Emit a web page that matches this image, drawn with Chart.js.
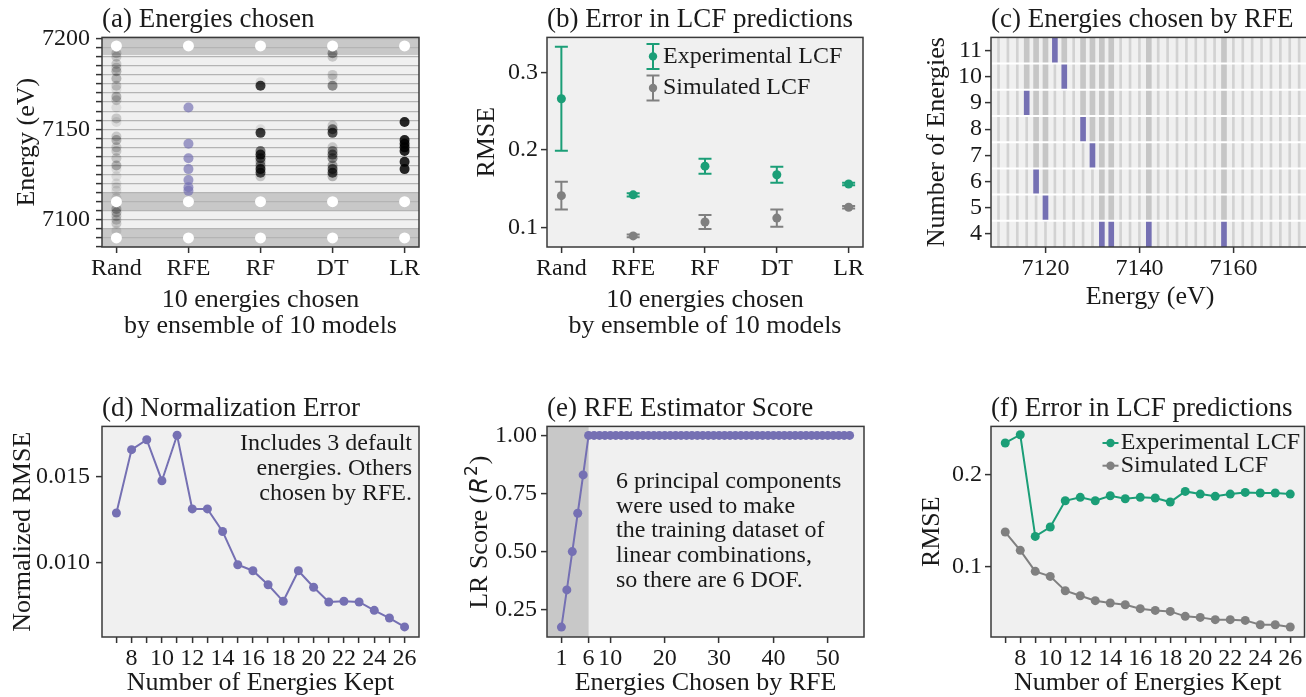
<!DOCTYPE html>
<html>
<head>
<meta charset="utf-8">
<title>Energy selection panels</title>
<script src="https://cdn.jsdelivr.net/npm/chart.js@4.4.1/dist/chart.umd.min.js"></script>
<style>
  html, body { margin: 0; padding: 0; background: #fff; }
  body { position: relative; width: 1306px; height: 697px; overflow: hidden; }
  canvas { position: absolute; }
</style>
</head>
<body>
<canvas id="panelA" width="435" height="345" style="left:0px;top:0px"></canvas>
<canvas id="panelB" width="440" height="345" style="left:435px;top:0px"></canvas>
<canvas id="panelC" width="434" height="345" style="left:875px;top:0px"></canvas>
<canvas id="panelD" width="435" height="308" style="left:0px;top:389px"></canvas>
<canvas id="panelE" width="440" height="308" style="left:435px;top:389px"></canvas>
<canvas id="panelF" width="434" height="308" style="left:875px;top:389px"></canvas>
<script>
// --------------------
// Data
// --------------------
const methods = ["Rand", "RFE", "RF", "DT", "LR"];

// (a) energies picked per method, with how many of the 10 models picked each one
const defaultEnergies = [7090, 7110, 7196];
const randEnergies = [7192, 7190, 7186, 7184, 7182, 7178, 7174, 7172, 7168, 7166, 7162, 7156, 7154, 7146, 7144, 7140, 7138, 7134, 7130, 7128, 7124, 7120, 7118, 7116, 7112, 7106, 7104, 7102, 7100, 7098, 7094];
const randCounts = [2, 2, 2, 2, 3, 3, 2, 1, 3, 2, 1, 2, 1, 2, 3, 2, 2, 2, 3, 1, 1, 1, 1, 1, 1, 3, 3, 2, 2, 2, 1];
const rfePicked = [7162, 7142, 7134, 7128, 7122, 7118, 7116];
const rfEnergies = [7176, 7174, 7150, 7148, 7138, 7136, 7134, 7132, 7130, 7128, 7126, 7124];
const rfCounts = [1, 9, 1, 9, 6, 9, 7, 4, 5, 9, 8, 2];
const dtEnergies = [7192, 7190, 7180, 7178, 7174, 7152, 7150, 7148, 7140, 7138, 7136, 7134, 7130, 7128, 7126, 7124];
const dtCounts = [4, 2, 2, 1, 5, 2, 6, 8, 2, 5, 6, 5, 4, 7, 8, 3];
const lrEnergies = [7154, 7144, 7142, 7140, 7138, 7132, 7128];
const lrCounts = [10, 10, 10, 10, 10, 10, 10];

// (b) RMSE mean and spread for each method
const expMean = [0.266, 0.142, 0.179, 0.168, 0.156];
const expErr = [0.067, 0.002, 0.0097, 0.0103, 0.0015];
const simMean = [0.141, 0.089, 0.107, 0.112, 0.126];
const simErr = [0.018, 0.0017, 0.009, 0.0112, 0.0017];

// (c) energy grid and the step at which RFE added each energy
const energyGrid = [7110, 7112, 7114, 7116, 7118, 7120, 7122, 7124, 7126, 7128, 7130, 7132, 7134, 7136, 7138, 7140, 7142, 7144, 7146, 7148, 7150, 7152, 7154, 7156, 7158, 7160, 7162, 7164, 7166, 7168, 7170, 7172, 7174];
const rfeEnergies = [7132, 7134, 7142, 7158, 7120, 7118, 7130, 7128, 7116, 7124, 7122];
const rfeAddedAt = [4, 4, 4, 4, 5, 6, 7, 8, 9, 10, 11];
const rfeRows = [4, 5, 6, 7, 8, 9, 10, 11];

// (d) normalization error vs energies kept
const nKept = [7, 8, 9, 10, 11, 12, 13, 14, 15, 16, 17, 18, 19, 20, 21, 22, 23, 24, 25, 26];
const normRmse = [0.01289, 0.0166, 0.01718, 0.01478, 0.01744, 0.01313, 0.01313, 0.01181, 0.00986, 0.00951, 0.00869, 0.00772, 0.00951, 0.00854, 0.00768, 0.00772, 0.00768, 0.00719, 0.00674, 0.00622];

// (e) RFE estimator score
const rfeSteps = [1, 2, 3, 4, 5, 6, 7, 8, 9, 10, 11, 12, 13, 14, 15, 16, 17, 18, 19, 20, 21, 22, 23, 24, 25, 26, 27,
  28, 29, 30, 31, 32, 33, 34, 35, 36, 37, 38, 39, 40, 41, 42, 43, 44, 45, 46, 47, 48, 49, 50, 51, 52, 53, 54];
const lrScore = [0.175, 0.335, 0.50, 0.665, 0.83, 1, 1, 1, 1, 1, 1, 1, 1, 1, 1, 1, 1, 1, 1, 1, 1, 1, 1, 1, 1, 1, 1,
  1, 1, 1, 1, 1, 1, 1, 1, 1, 1, 1, 1, 1, 1, 1, 1, 1, 1, 1, 1, 1, 1, 1, 1, 1, 1, 1];
const dofCount = 6;

// (f) LCF error vs energies kept
const expRmse = [0.2346, 0.2436, 0.1327, 0.143, 0.1716, 0.1753, 0.1716, 0.1771, 0.1738, 0.1753, 0.1746, 0.1702, 0.1818, 0.1789, 0.1764, 0.1789, 0.1807, 0.18, 0.18, 0.1789];
const simRmse = [0.1375, 0.1175, 0.0946, 0.0891, 0.0735, 0.068, 0.0626, 0.0601, 0.0582, 0.0539, 0.052, 0.0509, 0.0455, 0.0444, 0.0419, 0.0419, 0.0411, 0.0364, 0.0364, 0.0339];

// --------------------
// Shared look
// --------------------
const GREEN = "#1b9e77";
const PURPLE = "#7570b3";
const GRAY = "#808080";
const INK = "#1a1a1a";
const SERIF = "'Liberation Serif', 'Times New Roman', serif";

Chart.defaults.font.family = SERIF;
Chart.defaults.color = INK;

// light panel background, shaded bands, rules, frame and notes
const panelFrame = {
  id: "panelFrame",
  beforeDraw(chart, args, opts) {
    const { ctx, chartArea: a, scales } = chart;
    ctx.save();
    ctx.fillStyle = "#f0f0f0";
    ctx.fillRect(a.left, a.top, a.width, a.height);
    (opts.bands || []).forEach(b => {
      ctx.fillStyle = b.color;
      if (b.axis === "y") {
        const y1 = Math.max(scales.y.getPixelForValue(b.to), a.top);
        const y2 = Math.min(scales.y.getPixelForValue(b.from), a.bottom);
        ctx.fillRect(a.left, y1, a.width, y2 - y1);
      } else {
        const x1 = Math.max(scales.x.getPixelForValue(b.from), a.left);
        const x2 = Math.min(scales.x.getPixelForValue(b.to), a.right);
        ctx.fillRect(x1, a.top, x2 - x1, a.height);
      }
    });
    ctx.restore();
  },
  afterDatasetsDraw(chart, args, opts) {
    const { ctx, chartArea: a, scales } = chart;
    ctx.save();
    (opts.rules || []).forEach(v => {
      const y = scales.y.getPixelForValue(v);
      ctx.strokeStyle = "#ffffff";
      ctx.lineWidth = 2;
      ctx.beginPath();
      ctx.moveTo(a.left, y);
      ctx.lineTo(a.right, y);
      ctx.stroke();
    });
    ctx.restore();
  },
  afterDraw(chart, args, opts) {
    const { ctx, chartArea: a } = chart;
    ctx.save();
    ctx.strokeStyle = "#3a3a3a";
    ctx.lineWidth = 1.5;
    ctx.strokeRect(a.left, a.top, a.width, a.height);
    if (opts.note) {
      ctx.font = "24px " + SERIF;
      ctx.fillStyle = INK;
      ctx.textBaseline = "middle";
      ctx.textAlign = opts.note.align;
      const x = opts.note.align === "right" ? a.right - opts.note.dx : a.left + opts.note.dx;
      opts.note.lines.forEach((t, i) => ctx.fillText(t, x, a.top + opts.note.dy + i * opts.note.gap));
    }
    ctx.restore();
  }
};

// legend drawn inside the plot area
const insetLegend = {
  id: "insetLegend",
  afterDraw(chart, args, opts) {
    if (!opts.glyph) return;
    const { ctx, chartArea: a } = chart;
    const gx = opts.fromRight ? a.right - opts.glyphX : a.left + opts.glyphX;
    const tx = opts.fromRight ? a.right - opts.textX : a.left + opts.textX;
    ctx.save();
    chart.data.datasets.forEach((ds, i) => {
      const y = a.top + opts.y0 + i * opts.gap;
      ctx.strokeStyle = ds.pointBackgroundColor;
      ctx.fillStyle = ds.pointBackgroundColor;
      ctx.lineWidth = 2;
      ctx.beginPath();
      if (opts.glyph === "errorbar") {
        ctx.moveTo(gx, y - 12.5); ctx.lineTo(gx, y + 12.5);
        ctx.moveTo(gx - 6.5, y - 12.5); ctx.lineTo(gx + 6.5, y - 12.5);
        ctx.moveTo(gx - 6.5, y + 12.5); ctx.lineTo(gx + 6.5, y + 12.5);
      } else {
        ctx.moveTo(gx - 8, y); ctx.lineTo(gx + 8, y);
      }
      ctx.stroke();
      ctx.beginPath();
      ctx.arc(gx, y, 4.2, 0, Math.PI * 2);
      ctx.fill();
      ctx.fillStyle = INK;
      ctx.font = "24px " + SERIF;
      ctx.textAlign = "left";
      ctx.textBaseline = "middle";
      ctx.fillText(ds.label, tx, y);
    });
    ctx.restore();
  }
};

// vertical error bars from each dataset's errors array
const errorBars = {
  id: "errorBars",
  beforeDatasetsDraw(chart) {
    const { ctx, scales: { x, y } } = chart;
    ctx.save();
    chart.data.datasets.forEach(ds => {
      if (!ds.errors) return;
      ctx.strokeStyle = ds.pointBackgroundColor;
      ctx.lineWidth = 2;
      ds.data.forEach((p, i) => {
        const px = x.getPixelForValue(p.x);
        const top = y.getPixelForValue(p.y + ds.errors[i]);
        const bot = y.getPixelForValue(p.y - ds.errors[i]);
        ctx.beginPath();
        ctx.moveTo(px, top); ctx.lineTo(px, bot);
        ctx.moveTo(px - 6.5, top); ctx.lineTo(px + 6.5, top);
        ctx.moveTo(px - 6.5, bot); ctx.lineTo(px + 6.5, bot);
        ctx.stroke();
      });
    });
    ctx.restore();
  }
};

Chart.register(panelFrame, insetLegend);

function axis(o) {
  return {
    type: "linear",
    min: o.min,
    max: o.max,
    offset: false,
    beginAtZero: false,
    afterBuildTicks: s => { s.ticks = o.ticks.map(v => ({ value: v })); },
    afterFit: s => { if (s.isHorizontal()) s.height = o.size; else s.width = o.size; },
    border: { display: false },
    grid: {
      offset: false,
      drawOnChartArea: Boolean(o.gridColor),
      color: o.gridColor || "rgba(0,0,0,0)",
      lineWidth: 1.2,
      tickColor: "#333",
      tickWidth: 1.5,
      tickLength: 6
    },
    ticks: {
      autoSkip: false,
      maxRotation: 0,
      minRotation: 0,
      padding: o.tickPad,
      color: INK,
      font: { size: 24, lineHeight: 1 },
      callback: o.label
    },
    title: {
      display: Boolean(o.title),
      text: o.title || "",
      color: INK,
      font: { size: 26, lineHeight: 1 },
      padding: o.isX ? { top: 0, bottom: o.titlePad } : { top: o.titlePad, bottom: 0 }
    }
  };
}

function panelOptions(o) {
  return {
    responsive: false,
    devicePixelRatio: 1,
    animation: false,
    events: [],
    layout: { padding: { top: 0, left: 0, bottom: 0, right: o.padRight } },
    plugins: {
      legend: { display: false },
      tooltip: { enabled: false },
      title: {
        display: true, text: o.title, align: "start", fullSize: false, color: INK,
        font: { size: 27, weight: "normal", lineHeight: 1.2 }, padding: { top: 4, bottom: 1 }
      },
      panelFrame: o.frame || {},
      insetLegend: o.legend || {}
    },
    scales: { x: o.x, y: o.y }
  };
}

// one model's pick is a faint dot; picks shared by many models stack darker
const shade = n => `rgba(0,0,0,${Math.min(0.85, 0.085 * n).toFixed(3)})`;
const column = (idx, energies) => energies.map(e => ({ x: idx, y: e }));
const methodTick = v => methods[v] || "";
const methodTicks = [0, 1, 2, 3, 4];

// --------------------
// (a) Energies chosen
// --------------------
const ticksA = [];
for (let e = 7085; e <= 7200; e += 5) ticksA.push(e);
new Chart(document.getElementById("panelA"), {
  type: "scatter",
  data: {
    datasets: [
      { data: methods.flatMap((m, i) => column(i, defaultEnergies)), pointBackgroundColor: "#ffffff", pointBorderWidth: 0, pointRadius: 5.5 },
      { data: column(1, rfePicked), pointBackgroundColor: "rgba(117,112,179,0.68)", pointBorderWidth: 0, pointRadius: 5 },
      { data: column(0, randEnergies), pointBackgroundColor: randCounts.map(shade), pointBorderWidth: 0, pointRadius: 5 },
      { data: column(2, rfEnergies), pointBackgroundColor: rfCounts.map(shade), pointBorderWidth: 0, pointRadius: 5 },
      { data: column(3, dtEnergies), pointBackgroundColor: dtCounts.map(shade), pointBorderWidth: 0, pointRadius: 5 },
      { data: column(4, lrEnergies), pointBackgroundColor: lrCounts.map(shade), pointBorderWidth: 0, pointRadius: 5 }
    ]
  },
  options: panelOptions({
    title: "(a) Energies chosen",
    padRight: 16,
    frame: { bands: defaultEnergies.map(e => ({ axis: "y", from: e - 5, to: e + 5, color: "#c8c8c8" })) },
    x: axis({ min: -0.2, max: 4.2, ticks: methodTicks, label: methodTick, size: 98, tickPad: 4, isX: true,
      title: ["10 energies chosen", "by ensemble of 10 models"], titlePad: 6 }),
    y: axis({ min: 7085, max: 7200.7, ticks: ticksA, label: v => (v % 50 === 0 ? String(v) : ""), size: 102, tickPad: 6,
      gridColor: "#b4b4b4", title: "Energy (eV)", titlePad: 14 })
  })
});

// --------------------
// (b) Error in LCF predictions
// --------------------
new Chart(document.getElementById("panelB"), {
  type: "scatter",
  data: {
    datasets: [
      { label: "Experimental LCF", data: expMean.map((v, i) => ({ x: i, y: v })), errors: expErr, pointBackgroundColor: GREEN, pointBorderWidth: 0, pointRadius: 4.5 },
      { label: "Simulated LCF", data: simMean.map((v, i) => ({ x: i, y: v })), errors: simErr, pointBackgroundColor: GRAY, pointBorderWidth: 0, pointRadius: 4.5 }
    ]
  },
  options: panelOptions({
    title: "(b) Error in LCF predictions",
    padRight: 12,
    legend: { glyph: "errorbar", fromRight: true, glyphX: 210, textX: 200, y0: 19, gap: 31.6 },
    x: axis({ min: -0.2, max: 4.2, ticks: methodTicks, label: methodTick, size: 98, tickPad: 4, isX: true,
      title: ["10 energies chosen", "by ensemble of 10 models"], titlePad: 6 }),
    y: axis({ min: 0.0747, max: 0.3452, ticks: [0.1, 0.2, 0.3], label: v => v.toFixed(1), size: 112, tickPad: 3,
      title: "RMSE", titlePad: 38.7 })
  }),
  plugins: [errorBars]
});

// --------------------
// (c) Energies chosen by RFE
// --------------------
const rowLow = rfeRows[0] - 0.5;
const rowHigh = rfeRows[rfeRows.length - 1] + 0.5;
new Chart(document.getElementById("panelC"), {
  type: "bar",
  data: {
    datasets: [
      { data: rfeEnergies.map((e, i) => ({ x: e, y: [rfeAddedAt[i] - 0.5, rfeAddedAt[i] + 0.5] })),
        backgroundColor: PURPLE, barThickness: 5, grouped: false, borderWidth: 0 },
      { data: rfeEnergies.filter((e, i) => rfeAddedAt[i] < rfeRows[rfeRows.length - 1]).map(e => ({ x: e, y: [rfeAddedAt[rfeEnergies.indexOf(e)] + 0.5, rowHigh] })),
        backgroundColor: "#c6c6c6", barThickness: 5, grouped: false, borderWidth: 0 },
      { data: energyGrid.map(e => ({ x: e, y: [rowLow, rowHigh] })),
        backgroundColor: "#d2d2d2", barThickness: 2, grouped: false, borderWidth: 0 }
    ]
  },
  options: panelOptions({
    title: "(c) Energies chosen by RFE",
    padRight: 0,
    frame: { rules: rfeRows.slice(0, -1).map(r => r + 0.5) },
    x: axis({ min: 7108.4, max: 7176.1, ticks: [7120, 7140, 7160], label: v => String(v), size: 98, tickPad: 4, isX: true,
      title: "Energy (eV)", titlePad: 35 }),
    y: axis({ min: rowLow, max: rowHigh, ticks: rfeRows, label: v => String(v), size: 116, tickPad: 3,
      title: "Number of Energies", titlePad: 48.7 })
  })
});

// --------------------
// (d) Normalization Error
// --------------------
const evenLabel = v => (v % 2 === 0 ? String(v) : "");
new Chart(document.getElementById("panelD"), {
  type: "scatter",
  data: {
    datasets: [
      { data: nKept.map((n, i) => ({ x: n, y: normRmse[i] })), showLine: true, borderColor: PURPLE, borderWidth: 2,
        pointBackgroundColor: PURPLE, pointBorderWidth: 0, pointRadius: 4.5 }
    ]
  },
  options: panelOptions({
    title: "(d) Normalization Error",
    padRight: 16,
    frame: { note: { align: "right", dx: 7, dy: 17, gap: 25, lines: ["Includes 3 default", "energies. Others", "chosen by RFE."] } },
    x: axis({ min: 6.05, max: 26.95, ticks: nKept, label: evenLabel, size: 60, tickPad: 4, isX: true,
      title: "Number of Energies Kept", titlePad: 1 }),
    y: axis({ min: 0.00563, max: 0.01796, ticks: [0.010, 0.015], label: v => v.toFixed(3), size: 102, tickPad: 6,
      title: "Normalized RMSE", titlePad: 10.3 })
  })
});

// --------------------
// (e) RFE Estimator Score
// --------------------
const rSquaredTitle = {
  id: "rSquaredTitle",
  afterDraw(chart) {
    const { ctx, chartArea: a } = chart;
    const parts = [
      { t: "LR Score (", f: "26px " + SERIF, dy: 0 },
      { t: "R", f: "oblique 24px 'DejaVu Sans'", dy: 0 },
      { t: "2", f: "17px 'DejaVu Sans'", dy: -10 },
      { t: ")", f: "26px " + SERIF, dy: 0 }
    ];
    ctx.save();
    ctx.translate(42.5, (a.top + a.bottom) / 2);
    ctx.rotate(-Math.PI / 2);
    ctx.fillStyle = INK;
    ctx.textBaseline = "alphabetic";
    let total = 0;
    parts.forEach(p => { ctx.font = p.f; total += ctx.measureText(p.t).width + 1; });
    let x = -total / 2;
    parts.forEach(p => {
      ctx.font = p.f;
      ctx.fillText(p.t, x, 9 + p.dy);
      x += ctx.measureText(p.t).width + 1;
    });
    ctx.restore();
  }
};
new Chart(document.getElementById("panelE"), {
  type: "scatter",
  data: {
    datasets: [
      { data: rfeSteps.map((n, i) => ({ x: n, y: lrScore[i] })), showLine: true, borderColor: PURPLE, borderWidth: 2,
        pointBackgroundColor: PURPLE, pointBorderWidth: 0, pointRadius: 4.5 }
    ]
  },
  options: panelOptions({
    title: "(e) RFE Estimator Score",
    padRight: 11,
    frame: {
      bands: [{ axis: "x", from: -1.65, to: dofCount, color: "#c8c8c8" }],
      note: { align: "left", dx: 69, dy: 55.6, gap: 24.6, lines: ["6 principal components", "were used to make", "the training dataset of", "linear combinations,", "so there are 6 DOF."] }
    },
    x: axis({ min: -1.65, max: 56.65, ticks: [1, 6, 10, 20, 30, 40, 50], label: v => String(v), size: 60, tickPad: 4, isX: true,
      title: "Energies Chosen by RFE", titlePad: 1 }),
    y: axis({ min: 0.1325, max: 1.0387, ticks: [0.25, 0.5, 0.75, 1.0], label: v => v.toFixed(2), size: 112, tickPad: 4 })
  }),
  plugins: [rSquaredTitle]
});

// --------------------
// (f) Error in LCF predictions vs energies kept
// --------------------
new Chart(document.getElementById("panelF"), {
  type: "scatter",
  data: {
    datasets: [
      { label: "Experimental LCF", data: nKept.map((n, i) => ({ x: n, y: expRmse[i] })), showLine: true, borderColor: GREEN, borderWidth: 2,
        pointBackgroundColor: GREEN, pointBorderWidth: 0, pointRadius: 4.5 },
      { label: "Simulated LCF", data: nKept.map((n, i) => ({ x: n, y: simRmse[i] })), showLine: true, borderColor: GRAY, borderWidth: 2,
        pointBackgroundColor: GRAY, pointBorderWidth: 0, pointRadius: 4.5 }
    ]
  },
  options: panelOptions({
    title: "(f) Error in LCF predictions",
    padRight: 0,
    legend: { glyph: "line", fromRight: false, glyphX: 119.5, textX: 129.7, y0: 16.6, gap: 22.7 },
    x: axis({ min: 6.05, max: 26.95, ticks: nKept, label: evenLabel, size: 60, tickPad: 4, isX: true,
      title: "Number of Energies Kept", titlePad: 1 }),
    y: axis({ min: 0.023, max: 0.2527, ticks: [0.1, 0.2], label: v => v.toFixed(1), size: 116, tickPad: 3,
      title: "RMSE", titlePad: 44.5 })
  })
});
</script>
</body>
</html>
